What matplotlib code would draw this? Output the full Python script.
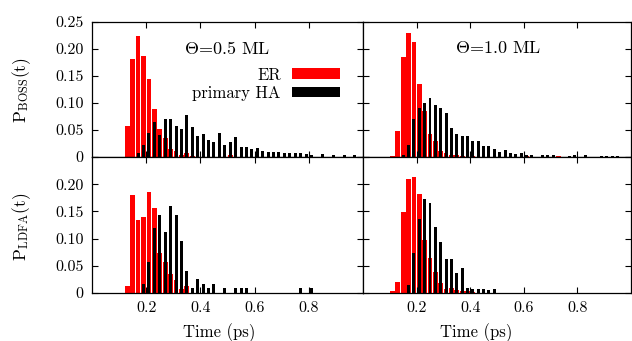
import matplotlib
matplotlib.use("Agg")
import matplotlib.pyplot as plt

plt.rcParams['font.family'] = 'cmr10'
plt.rcParams['mathtext.fontset'] = 'cm'
plt.rcParams['axes.unicode_minus'] = False

# ---------------------------------------------------------------
#   data: bin centres (ps) and probabilities
# ---------------------------------------------------------------

# Theta = 0.5 ML, BOSS
t_er_05_boss = [0.13, 0.15, 0.17, 0.19, 0.21, 0.23, 0.25, 0.27, 0.29, 0.31, 0.33, 0.35, 0.37, 0.51]
p_er_05_boss = [0.058, 0.181, 0.225, 0.187, 0.144, 0.088, 0.051, 0.035, 0.014, 0.011, 0.004, 0.007, 0.002, 0.004]

t_ha_05_boss = [0.17, 0.19, 0.21, 0.23, 0.25, 0.27, 0.29, 0.31, 0.33, 0.35, 0.37, 0.39, 0.41, 0.43,
                0.45, 0.47, 0.49, 0.51, 0.53, 0.55, 0.57, 0.59, 0.61, 0.63, 0.65, 0.67, 0.69, 0.71,
                0.73, 0.75, 0.77, 0.79, 0.81, 0.85, 0.89, 0.93, 0.97]
p_ha_05_boss = [0.007, 0.022, 0.044, 0.064, 0.040, 0.071, 0.071, 0.058, 0.052, 0.078, 0.055, 0.039, 0.043, 0.031,
                0.027, 0.045, 0.023, 0.027, 0.037, 0.018, 0.018, 0.015, 0.017, 0.011, 0.010, 0.009, 0.009, 0.007,
                0.008, 0.008, 0.007, 0.005, 0.004, 0.006, 0.003, 0.003, 0.003]

# Theta = 1.0 ML, BOSS
t_er_10_boss = [0.11, 0.13, 0.15, 0.17, 0.19, 0.21, 0.23, 0.25, 0.27, 0.29, 0.31, 0.33, 0.35, 0.37, 0.41, 0.61, 0.73]
p_er_10_boss = [0.002, 0.048, 0.186, 0.229, 0.213, 0.135, 0.086, 0.042, 0.029, 0.011, 0.007, 0.004, 0.003, 0.002, 0.002, 0.002, 0.002]

t_ha_10_boss = [0.15, 0.17, 0.19, 0.21, 0.23, 0.25, 0.27, 0.29, 0.31, 0.33, 0.35, 0.37, 0.39, 0.41,
                0.43, 0.45, 0.47, 0.49, 0.51, 0.53, 0.55, 0.57, 0.59, 0.61, 0.63, 0.67, 0.69, 0.71,
                0.77, 0.79, 0.83, 0.89, 0.91, 0.93, 0.95]
p_ha_10_boss = [0.003, 0.023, 0.070, 0.091, 0.100, 0.109, 0.096, 0.091, 0.081, 0.054, 0.042, 0.038, 0.038, 0.030,
                0.030, 0.020, 0.020, 0.015, 0.009, 0.013, 0.007, 0.005, 0.007, 0.003, 0.003, 0.004, 0.004, 0.003,
                0.002, 0.003, 0.004, 0.002, 0.002, 0.002, 0.002]

# Theta = 0.5 ML, LDFA
t_er_05_ldfa = [0.13, 0.15, 0.17, 0.19, 0.21, 0.23, 0.25, 0.27, 0.29, 0.31, 0.33, 0.35]
p_er_05_ldfa = [0.012, 0.180, 0.135, 0.140, 0.185, 0.157, 0.074, 0.057, 0.035, 0.024, 0.007, 0.012]

t_ha_05_ldfa = [0.19, 0.21, 0.23, 0.25, 0.27, 0.29, 0.31, 0.33, 0.35, 0.37, 0.39, 0.41, 0.43, 0.45,
                0.49, 0.53, 0.55, 0.57, 0.77, 0.81]
p_ha_05_ldfa = [0.017, 0.057, 0.120, 0.144, 0.112, 0.160, 0.144, 0.096, 0.041, 0.009, 0.025, 0.017, 0.009, 0.017,
                0.009, 0.009, 0.009, 0.009, 0.009, 0.009]

# Theta = 1.0 ML, LDFA
t_er_10_ldfa = [0.11, 0.13, 0.15, 0.17, 0.19, 0.21, 0.23, 0.25, 0.27, 0.29, 0.31, 0.33, 0.35, 0.37, 0.39, 0.41]
p_er_10_ldfa = [0.004, 0.020, 0.149, 0.209, 0.214, 0.182, 0.097, 0.065, 0.038, 0.019, 0.007, 0.010, 0.006, 0.004, 0.003, 0.002]

t_ha_10_ldfa = [0.17, 0.19, 0.21, 0.23, 0.25, 0.27, 0.29, 0.31, 0.33, 0.35, 0.37, 0.39, 0.41, 0.43, 0.45, 0.47, 0.49]
p_ha_10_ldfa = [0.014, 0.074, 0.136, 0.172, 0.166, 0.122, 0.094, 0.062, 0.062, 0.036, 0.046, 0.010, 0.007, 0.007, 0.007, 0.005, 0.007]

xticks = [0.2, 0.4, 0.6, 0.8]
xticklabels = ["0.2", "0.4", "0.6", "0.8"]
yticks_top = [0, 0.05, 0.10, 0.15, 0.20, 0.25]
yticklabels_top = ["0", "0.05", "0.10", "0.15", "0.20", "0.25"]
yticks_bot = [0, 0.05, 0.10, 0.15, 0.20, 0.25]
yticklabels_bot = ["0", "0.05", "0.10", "0.15", "0.20", ""]

# ---------------------------------------------------------------
#   layout (pixels of a 632x341 figure)
# ---------------------------------------------------------------

W, H = 632, 341
fig = plt.figure(figsize=(W / 100, H / 100), dpi=100)

x0, x1, x2 = 92 / W, 363 / W, 631 / W
y0, y1, y2 = 1 - 293 / H, 1 - 157 / H, 1 - 22 / H

ax_tl = fig.add_axes([x0, y1, x1 - x0, y2 - y1])
ax_tr = fig.add_axes([x1, y1, x2 - x1, y2 - y1])
ax_bl = fig.add_axes([x0, y0, x1 - x0, y1 - y0])
ax_br = fig.add_axes([x1, y0, x2 - x1, y1 - y0])

panels = [
    (ax_tl, t_er_05_boss, p_er_05_boss, t_ha_05_boss, p_ha_05_boss),
    (ax_tr, t_er_10_boss, p_er_10_boss, t_ha_10_boss, p_ha_10_boss),
    (ax_bl, t_er_05_ldfa, p_er_05_ldfa, t_ha_05_ldfa, p_ha_05_ldfa),
    (ax_br, t_er_10_ldfa, p_er_10_ldfa, t_ha_10_ldfa, p_ha_10_ldfa),
]

handles = None
for ax, t_er, p_er, t_ha, p_ha in panels:
    b_er = ax.bar(t_er, p_er, width=0.0175, color="#ff0000", linewidth=0)
    b_ha = ax.bar(t_ha, p_ha, width=0.011, color="black", linewidth=0)
    if handles is None:
        handles = [b_er, b_ha]
    ax.set_xlim(0, 1.0)
    ax.set_ylim(0, 0.25)
    ax.set_xticks(xticks)
    ax.tick_params(direction="in", length=4, width=0.8, top=True, right=True,
                   labelsize=11.5, pad=6)
    for s in ax.spines.values():
        s.set_linewidth(0.9)

for ax in (ax_tl, ax_tr):
    ax.set_yticks(yticks_top)
    ax.set_xticklabels([])
for ax in (ax_bl, ax_br):
    ax.set_yticks(yticks_bot)
    ax.set_xticklabels(xticklabels)
ax_tl.set_yticklabels(yticklabels_top)
ax_bl.set_yticklabels(yticklabels_bot)
ax_tr.set_yticklabels([])
ax_br.set_yticklabels([])

ax_tl.text(0.498, 0.807, r"$\Theta$=0.5 ML", transform=ax_tl.transAxes,
           ha="center", va="center", fontsize=13)
ax_tr.text(0.504, 0.807, r"$\Theta$=1.0 ML", transform=ax_tr.transAxes,
           ha="center", va="center", fontsize=13)

ax_tl.legend(handles, ["ER", "primary HA"], loc="upper right", bbox_to_anchor=(0.915, 0.665),
             markerfirst=False, frameon=False, fontsize=12, handlelength=2.9,
             handleheight=0.62, handletextpad=0.65, labelspacing=0.18, borderpad=0,
             borderaxespad=0)

fig.text(22 / W, 1 - 90 / H, r"P$_{\rm BOSS}$(t)", rotation=90, ha="center", va="center", fontsize=12.5)
fig.text(22 / W, 1 - 227 / H, r"P$_{\rm LDFA}$(t)", rotation=90, ha="center", va="center", fontsize=12.5)
fig.text(219 / W, 1 - 333 / H, "Time (ps)", ha="center", va="center", fontsize=12)
fig.text(476 / W, 1 - 333 / H, "Time (ps)", ha="center", va="center", fontsize=12)

fig.savefig("out.png", dpi=100)
